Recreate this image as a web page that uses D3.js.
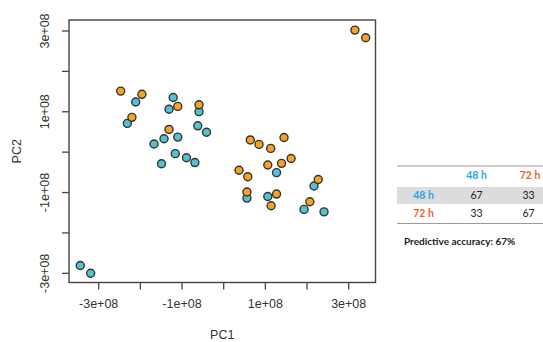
<!DOCTYPE html>
<html>
<head>
<meta charset="utf-8">
<script src="https://cdn.jsdelivr.net/npm/d3@7"></script>
<style>
  body { margin: 0; background: #fff; }
  svg { display: block; }
</style>
</head>
<body>
<svg id="chart" width="543" height="342"></svg>
<script>
// ── Data ──
const pc1_48 = [-3.43e8, -3.18e8, -2.10e8, -2.30e8, -1.20e8, -1.30e8, -0.58e8, -0.61e8, -0.40e8, -1.09e8, -1.42e8,
                -1.66e8, -1.15e8, -0.88e8, -0.68e8, -1.48e8, 1.28e8, 0.57e8, 1.07e8, 2.18e8, 1.94e8, 2.42e8];
const pc2_48 = [-2.82e8, -3.01e8, 1.23e8, 0.70e8, 1.34e8, 1.05e8, 0.99e8, 0.64e8, 0.48e8, 0.36e8, 0.32e8,
                0.19e8, -0.05e8, -0.15e8, -0.27e8, -0.30e8, -0.52e8, -1.15e8, -1.11e8, -0.85e8, -1.43e8, -1.49e8];
const pc1_72 = [-2.46e8, -1.95e8, -2.19e8, -1.09e8, -1.30e8, -0.58e8, 3.16e8, 3.42e8, 0.65e8, 0.86e8, 1.14e8,
                1.46e8, 1.07e8, 1.40e8, 1.63e8, 0.38e8, 0.59e8, 0.57e8, 1.28e8, 1.15e8, 2.28e8, 2.08e8];
const pc2_72 = [1.50e8, 1.42e8, 0.85e8, 1.12e8, 0.55e8, 1.16e8, 3.01e8, 2.82e8, 0.29e8, 0.18e8, 0.08e8,
                0.35e8, -0.33e8, -0.29e8, -0.17e8, -0.46e8, -0.62e8, -1.00e8, -1.05e8, -1.34e8, -0.69e8, -1.24e8];

const tickValues = [-3e8, -2e8, -1e8, 0, 1e8, 2e8, 3e8];
const tickLabels = ['-3e+08', '', '-1e+08', '', '1e+08', '', '3e+08'];

const groupLabels = ['48 h', '72 h'];
const confusion = [[67, 33], [33, 67]];
const accuracyText = 'Predictive accuracy: 67%';

// ── Layout ──
const plot = { left: 69, top: 20, right: 375.5, bottom: 282.5 };
const colors = { '48 h': '#56c1d3', '72 h': '#f4a324' };
const tableColors = { '48 h': '#2aa7df', '72 h': '#e9632b' };

const svg = d3.select('#chart');

const x = d3.scaleLinear()
  .domain([-3.70e8, 3.655e8])
  .range([plot.left, plot.right]);

const y = d3.scaleLinear()
  .domain([-3.24e8, 3.26e8])
  .range([plot.bottom, plot.top]);

// ── Axes ──
const xAxis = svg.append('g')
  .attr('transform', `translate(0,${plot.bottom})`)
  .call(d3.axisBottom(x).tickValues(tickValues).tickSize(7).tickPadding(10)
    .tickFormat((d, i) => tickLabels[i]));

const yAxis = svg.append('g')
  .attr('transform', `translate(${plot.left},0)`)
  .call(d3.axisLeft(y).tickValues(tickValues).tickSize(7)
    .tickFormat((d, i) => tickLabels[i]));

[xAxis, yAxis].forEach(g => {
  g.select('.domain').remove();
  g.selectAll('line').attr('stroke', '#444').attr('stroke-width', 1.3);
  g.selectAll('text')
    .attr('fill', '#333')
    .style('font-family', '"Liberation Sans", Arial, sans-serif')
    .style('font-size', '12.5px');
});

yAxis.selectAll('text')
  .attr('text-anchor', 'middle')
  .attr('dy', 0)
  .attr('x', 0)
  .attr('transform', 'translate(-20,0) rotate(-90)');

// Box
svg.append('rect')
  .attr('x', plot.left)
  .attr('y', plot.top)
  .attr('width', plot.right - plot.left)
  .attr('height', plot.bottom - plot.top)
  .attr('fill', 'none')
  .attr('stroke', '#444')
  .attr('stroke-width', 1.4);

// Axis titles
svg.append('text')
  .attr('x', (plot.left + plot.right) / 2)
  .attr('y', 339)
  .attr('text-anchor', 'middle')
  .attr('fill', '#333')
  .style('font-family', '"Liberation Sans", Arial, sans-serif')
  .style('font-size', '12.5px')
  .text('PC1');

svg.append('text')
  .attr('transform', `translate(21,${(plot.top + plot.bottom) / 2}) rotate(-90)`)
  .attr('text-anchor', 'middle')
  .attr('fill', '#333')
  .style('font-family', '"Liberation Sans", Arial, sans-serif')
  .style('font-size', '12.5px')
  .text('PC2');

// ── Points ──
const points = [];
pc1_48.forEach((v, i) => points.push({ g: '48 h', x: v, y: pc2_48[i] }));
pc1_72.forEach((v, i) => points.push({ g: '72 h', x: v, y: pc2_72[i] }));

svg.append('g').selectAll('circle')
  .data(points)
  .enter()
  .append('circle')
  .attr('cx', d => x(d.x))
  .attr('cy', d => y(d.y))
  .attr('r', 4)
  .attr('fill', d => colors[d.g])
  .attr('stroke', '#333')
  .attr('stroke-width', 1.4);

// ── Confusion table ──
const tbl = svg.append('g').style('font-family', 'Lato, "Open Sans", sans-serif');
const tLeft = 397, tRight = 543;
const colX = [476.5, 530];
const rowLabelX = 423.5;
const rowY = [195.5, 213.5];

tbl.append('rect')
  .attr('x', tLeft).attr('y', 187)
  .attr('width', tRight - tLeft).attr('height', 17)
  .attr('fill', '#dcdcdc');

[166, 223.5].forEach(ly => {
  tbl.append('line')
    .attr('x1', tLeft).attr('x2', tRight)
    .attr('y1', ly).attr('y2', ly)
    .attr('stroke', '#9a9a9a')
    .attr('stroke-width', 1);
});

groupLabels.forEach((lab, j) => {
  tbl.append('text')
    .attr('x', colX[j]).attr('y', 175)
    .attr('dy', '0.35em')
    .attr('text-anchor', 'middle')
    .attr('fill', tableColors[lab])
    .style('font-size', '10.5px')
    .style('font-weight', 'bold')
    .text(lab);
});

groupLabels.forEach((lab, i) => {
  tbl.append('text')
    .attr('x', rowLabelX).attr('y', rowY[i])
    .attr('dy', '0.35em')
    .attr('text-anchor', 'middle')
    .attr('fill', tableColors[lab])
    .style('font-size', '10.5px')
    .style('font-weight', 'bold')
    .text(lab);
  confusion[i].forEach((v, j) => {
    tbl.append('text')
      .attr('x', colX[j] - (j === 1 ? 1.5 : 0)).attr('y', rowY[i])
      .attr('dy', '0.35em')
      .attr('text-anchor', 'middle')
      .attr('fill', '#222')
      .style('font-size', '10.5px')
      .text(v);
  });
});

tbl.append('text')
  .attr('x', 404).attr('y', 241.5)
  .attr('dy', '0.35em')
  .attr('fill', '#222')
  .style('font-size', '10px')
  .style('font-weight', 'bold')
  .text(accuracyText);
</script>
</body>
</html>
